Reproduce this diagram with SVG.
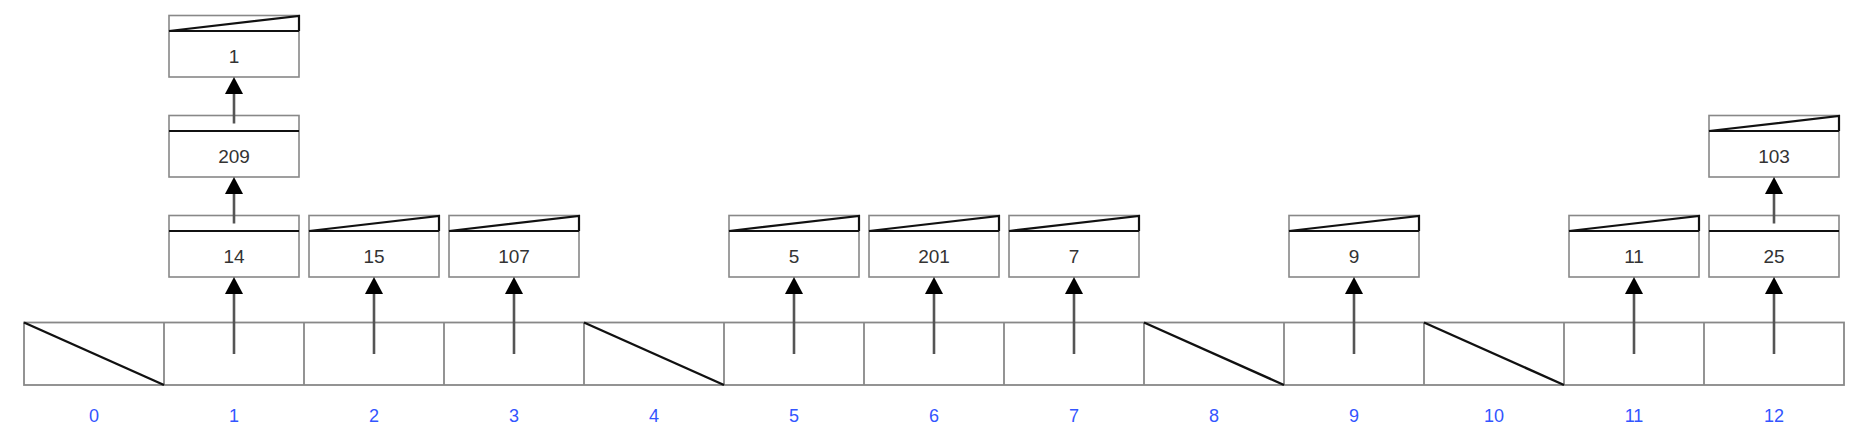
<svg xmlns="http://www.w3.org/2000/svg" width="1862" height="442" viewBox="0 0 1862 442">
<defs>
<style>
.bx{fill:#fff;stroke:#888;stroke-width:1.6}
.dv{stroke:#111;stroke-width:2.2}
.nl{fill:none;stroke:#111;stroke-width:2.2;stroke-linejoin:miter}
.v{font-family:"Liberation Sans",Arial,sans-serif;font-size:19px;fill:#333;text-anchor:middle}
.ix{font-family:"Liberation Sans",Arial,sans-serif;font-size:18px;fill:#3355ff;text-anchor:middle}
.cell{fill:#fff;stroke:#888;stroke-width:1.8}
.diag{stroke:#111;stroke-width:2.4}
.ar{stroke:#555;stroke-width:2.6;fill:none;marker-end:url(#ah)}
</style>
<marker id="ah" viewBox="0 0 17 18" refX="9" refY="9" markerWidth="17" markerHeight="18" markerUnits="userSpaceOnUse" orient="auto">
<path d="M0,0 L17,9 L0,18 z" fill="#000"/>
</marker>
</defs>
<rect width="1862" height="442" fill="#fff"/>

<g id="array">
<rect class="cell" x="24" y="322.5" width="1820" height="62.5"/>
<line class="cell" x1="164" y1="322.5" x2="164" y2="385"/>
<line class="cell" x1="304" y1="322.5" x2="304" y2="385"/>
<line class="cell" x1="444" y1="322.5" x2="444" y2="385"/>
<line class="cell" x1="584" y1="322.5" x2="584" y2="385"/>
<line class="cell" x1="724" y1="322.5" x2="724" y2="385"/>
<line class="cell" x1="864" y1="322.5" x2="864" y2="385"/>
<line class="cell" x1="1004" y1="322.5" x2="1004" y2="385"/>
<line class="cell" x1="1144" y1="322.5" x2="1144" y2="385"/>
<line class="cell" x1="1284" y1="322.5" x2="1284" y2="385"/>
<line class="cell" x1="1424" y1="322.5" x2="1424" y2="385"/>
<line class="cell" x1="1564" y1="322.5" x2="1564" y2="385"/>
<line class="cell" x1="1704" y1="322.5" x2="1704" y2="385"/>
<line class="diag" x1="24" y1="322.5" x2="164" y2="385"/>
<line class="diag" x1="584" y1="322.5" x2="724" y2="385"/>
<line class="diag" x1="1144" y1="322.5" x2="1284" y2="385"/>
<line class="diag" x1="1424" y1="322.5" x2="1564" y2="385"/>
</g>

<g id="indices">
<text class="ix" x="94" y="422">0</text>
<text class="ix" x="234" y="422">1</text>
<text class="ix" x="374" y="422">2</text>
<text class="ix" x="514" y="422">3</text>
<text class="ix" x="654" y="422">4</text>
<text class="ix" x="794" y="422">5</text>
<text class="ix" x="934" y="422">6</text>
<text class="ix" x="1074" y="422">7</text>
<text class="ix" x="1214" y="422">8</text>
<text class="ix" x="1354" y="422">9</text>
<text class="ix" x="1494" y="422">10</text>
<text class="ix" x="1634" y="422">11</text>
<text class="ix" x="1774" y="422">12</text>
</g>

<g id="n14" transform="translate(234,215.5)">
<rect class="bx" x="-65" y="0" width="130" height="61.5"/>
<line class="dv" x1="-65" y1="15.5" x2="65" y2="15.5"/>
<text class="v" x="0" y="47">14</text>
</g>
<g id="n209" transform="translate(234,115.5)">
<rect class="bx" x="-65" y="0" width="130" height="61.5"/>
<line class="dv" x1="-65" y1="15.5" x2="65" y2="15.5"/>
<text class="v" x="0" y="47">209</text>
</g>
<g id="n1" transform="translate(234,15.5)">
<rect class="bx" x="-65" y="0" width="130" height="61.5"/>
<line class="dv" x1="-65" y1="15.5" x2="65" y2="15.5"/>
<path class="nl" d="M-65,15.5 L65,0.5 L65,15.5"/>
<text class="v" x="0" y="47">1</text>
</g>
<g id="n15" transform="translate(374,215.5)">
<rect class="bx" x="-65" y="0" width="130" height="61.5"/>
<line class="dv" x1="-65" y1="15.5" x2="65" y2="15.5"/>
<path class="nl" d="M-65,15.5 L65,0.5 L65,15.5"/>
<text class="v" x="0" y="47">15</text>
</g>
<g id="n107" transform="translate(514,215.5)">
<rect class="bx" x="-65" y="0" width="130" height="61.5"/>
<line class="dv" x1="-65" y1="15.5" x2="65" y2="15.5"/>
<path class="nl" d="M-65,15.5 L65,0.5 L65,15.5"/>
<text class="v" x="0" y="47">107</text>
</g>
<g id="n5" transform="translate(794,215.5)">
<rect class="bx" x="-65" y="0" width="130" height="61.5"/>
<line class="dv" x1="-65" y1="15.5" x2="65" y2="15.5"/>
<path class="nl" d="M-65,15.5 L65,0.5 L65,15.5"/>
<text class="v" x="0" y="47">5</text>
</g>
<g id="n201" transform="translate(934,215.5)">
<rect class="bx" x="-65" y="0" width="130" height="61.5"/>
<line class="dv" x1="-65" y1="15.5" x2="65" y2="15.5"/>
<path class="nl" d="M-65,15.5 L65,0.5 L65,15.5"/>
<text class="v" x="0" y="47">201</text>
</g>
<g id="n7" transform="translate(1074,215.5)">
<rect class="bx" x="-65" y="0" width="130" height="61.5"/>
<line class="dv" x1="-65" y1="15.5" x2="65" y2="15.5"/>
<path class="nl" d="M-65,15.5 L65,0.5 L65,15.5"/>
<text class="v" x="0" y="47">7</text>
</g>
<g id="n9" transform="translate(1354,215.5)">
<rect class="bx" x="-65" y="0" width="130" height="61.5"/>
<line class="dv" x1="-65" y1="15.5" x2="65" y2="15.5"/>
<path class="nl" d="M-65,15.5 L65,0.5 L65,15.5"/>
<text class="v" x="0" y="47">9</text>
</g>
<g id="n11" transform="translate(1634,215.5)">
<rect class="bx" x="-65" y="0" width="130" height="61.5"/>
<line class="dv" x1="-65" y1="15.5" x2="65" y2="15.5"/>
<path class="nl" d="M-65,15.5 L65,0.5 L65,15.5"/>
<text class="v" x="0" y="47">11</text>
</g>
<g id="n25" transform="translate(1774,215.5)">
<rect class="bx" x="-65" y="0" width="130" height="61.5"/>
<line class="dv" x1="-65" y1="15.5" x2="65" y2="15.5"/>
<text class="v" x="0" y="47">25</text>
</g>
<g id="n103" transform="translate(1774,115.5)">
<rect class="bx" x="-65" y="0" width="130" height="61.5"/>
<line class="dv" x1="-65" y1="15.5" x2="65" y2="15.5"/>
<path class="nl" d="M-65,15.5 L65,0.5 L65,15.5"/>
<text class="v" x="0" y="47">103</text>
</g>

<g id="connectors">
<line class="ar" x1="234" y1="354" x2="234" y2="285"/>
<line class="ar" x1="374" y1="354" x2="374" y2="285"/>
<line class="ar" x1="514" y1="354" x2="514" y2="285"/>
<line class="ar" x1="794" y1="354" x2="794" y2="285"/>
<line class="ar" x1="934" y1="354" x2="934" y2="285"/>
<line class="ar" x1="1074" y1="354" x2="1074" y2="285"/>
<line class="ar" x1="1354" y1="354" x2="1354" y2="285"/>
<line class="ar" x1="1634" y1="354" x2="1634" y2="285"/>
<line class="ar" x1="1774" y1="354" x2="1774" y2="285"/>
<line class="ar" x1="234" y1="223.5" x2="234" y2="185"/>
<line class="ar" x1="234" y1="123.5" x2="234" y2="85"/>
<line class="ar" x1="1774" y1="223.5" x2="1774" y2="185"/>
</g>
</svg>
